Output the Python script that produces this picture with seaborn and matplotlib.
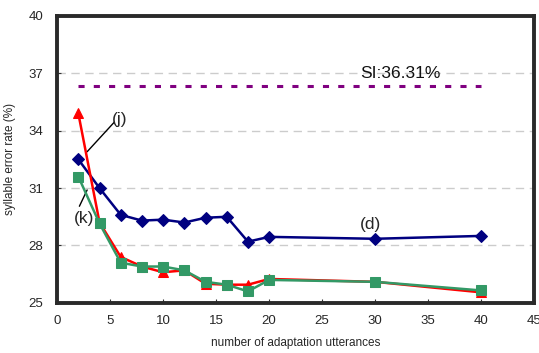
import matplotlib
matplotlib.use("Agg")
import matplotlib.pyplot as plt
import seaborn as sns
import pandas as pd

# data
utterances = [2, 4, 6, 8, 10, 12, 14, 16, 18, 20, 30, 40]
err_d = [32.5, 31.0, 29.6, 29.3, 29.35, 29.2, 29.45, 29.5, 28.2, 28.45, 28.35, 28.5]
err_j = [34.9, 29.2, 27.4, 26.9, 26.6, 26.7, 26.0, 25.95, 25.95, 26.25, 26.1, 25.55]
err_k = [31.6, 29.15, 27.1, 26.9, 26.9, 26.7, 26.1, 25.95, 25.6, 26.2, 26.1, 25.65]
si_x = [2, 40]
si_rate = 36.31

sns.set_style("white")
plt.rcParams["font.family"] = ["Liberation Sans", "DejaVu Sans"]

fig = plt.figure(figsize=(5.39, 3.53), dpi=100)
ax = fig.add_axes([0.106, 0.142, 0.885, 0.813])

# grid
for g in [28, 31, 34, 37]:
    ax.axhline(g, color="#cccccc", lw=1.0, ls=(0, (6, 4)), zorder=0)

# SI baseline
ax.plot(si_x, [si_rate, si_rate], color="#800080", lw=2.2, ls=(0, (2, 3)), zorder=1)

df = pd.DataFrame({"x": utterances, "d": err_d, "j": err_j, "k": err_k})
sns.lineplot(data=df, x="x", y="d", ax=ax, color="#000080", lw=1.8,
             marker="D", markersize=6, markeredgecolor="#000080", zorder=3)
sns.lineplot(data=df, x="x", y="j", ax=ax, color="#ff0000", lw=1.8,
             marker="^", markersize=7, markeredgecolor="#ff0000", zorder=4)
sns.lineplot(data=df, x="x", y="k", ax=ax, color="#339966", lw=1.8,
             marker="s", markersize=7.5, markeredgecolor="#339966", zorder=5)

# labels on curves
ax.text(32.4, 37.0, "SI:36.31%", fontsize=12.5, ha="center", va="center", color="#111111")
ax.text(5.9, 34.6, "(j)", fontsize=12.5, ha="center", va="center")
ax.plot([2.83, 5.4], [32.9, 34.45], color="black", lw=1)
ax.text(2.5, 29.4, "(k)", fontsize=12.5, ha="center", va="center")
ax.plot([2.83, 2.1], [30.9, 30.05], color="black", lw=1)
ax.text(29.6, 29.1, "(d)", fontsize=12.5, ha="center", va="center")

ax.set_xlim(0, 45)
ax.set_ylim(25, 40)
ax.set_xticks(range(0, 46, 5))
ax.set_yticks([25, 28, 31, 34, 37, 40])
ax.tick_params(axis="both", labelsize=9.5, length=3, width=0.8, color="#333333", direction="in")
ax.tick_params(axis="x", bottom=True, pad=9)
ax.tick_params(axis="y", left=True, pad=10)
ax.set_xlabel("number of adaptation utterances", fontsize=8.5, labelpad=7)
ax.set_ylabel("syllable error rate (%)", fontsize=8.5, labelpad=9)

for side in ["top", "right", "bottom", "left"]:
    ax.spines[side].set_visible(True)
    ax.spines[side].set_color("#2a2a2a")
    ax.spines[side].set_linewidth(2.8)

fig.savefig("out.png", dpi=100)
